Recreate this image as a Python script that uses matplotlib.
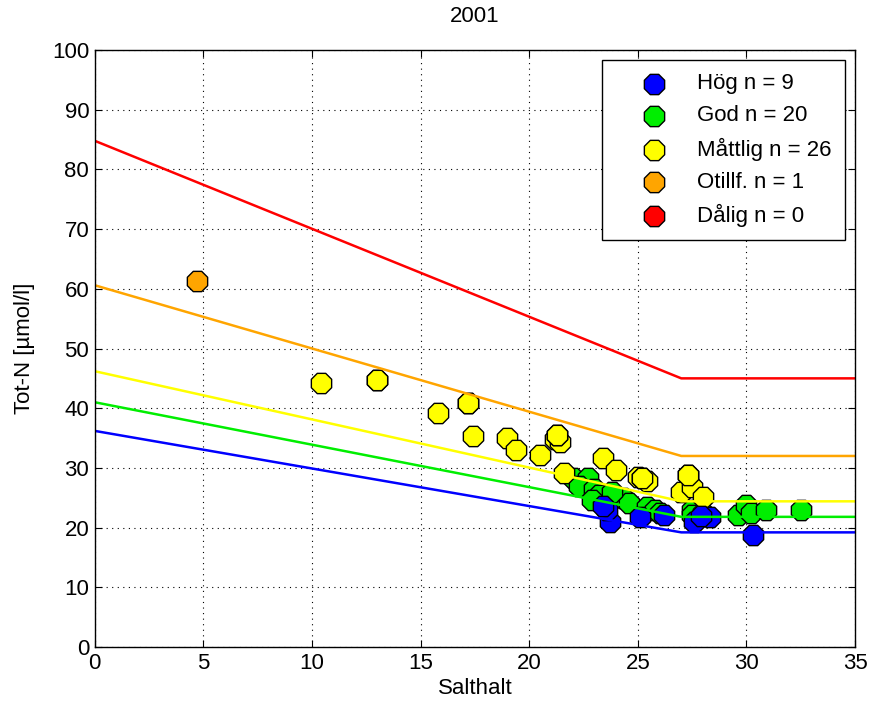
import matplotlib
matplotlib.use("Agg")
import matplotlib.pyplot as plt

plt.rcParams['font.family'] = ['Liberation Sans', 'DejaVu Sans']

# Boundary lines (salinity breakpoints and Tot-N values)
bound_sal = [0, 27, 35]
bound_hog = [36.2, 19.2, 19.2]
bound_god = [41.0, 21.8, 21.8]
bound_mattlig = [46.2, 24.4, 24.4]
bound_otillf = [60.6, 32.0, 32.0]
bound_dalig = [84.8, 45.0, 45.0]

# Points
hog_x = [23.7, 23.6, 23.4, 25.1, 26.2, 27.6, 28.3, 27.9, 30.3]
hog_y = [20.9, 22.9, 23.6, 21.8, 22.1, 20.9, 21.8, 22.0, 18.8]

god_x = [22.0, 22.7, 22.3, 23.0, 23.2, 22.9, 24.3, 24.6, 25.4, 25.8,
         27.5, 27.5, 28.0, 29.6, 30.0, 30.2, 30.9, 32.5, 23.8, 26.0]
god_y = [28.3, 28.3, 27.0, 26.5, 25.5, 24.6, 25.0, 24.1, 23.5, 23.0,
         22.9, 22.1, 22.5, 22.1, 23.8, 22.5, 23.0, 23.0, 26.0, 22.5]

mattlig_x = [10.4, 13.0, 15.8, 17.2, 17.4, 19.0, 19.4, 20.5, 21.2, 21.4,
             21.3, 21.6, 23.4, 24.0, 25.0, 25.2, 25.4, 27.3, 27.0, 27.5,
             28.0, 21.3, 25.2, 27.3, 17.2, 13.0]
mattlig_y = [44.2, 44.7, 39.2, 40.9, 35.3, 35.0, 33.0, 32.2, 34.9, 34.3,
             35.5, 29.1, 31.6, 29.6, 28.5, 28.3, 27.8, 28.8, 26.0, 26.8,
             25.1, 35.5, 28.3, 28.8, 40.9, 44.7]

otillf_x = [4.7]
otillf_y = [61.3]

dalig_x = []
dalig_y = []

labels = ["Hög n = 9", "God n = 20", "Måttlig n = 26", "Otillf. n = 1", "Dålig n = 0"]
colors = ["#0000ff", "#00ee00", "#ffff00", "#ffa500", "#ff0000"]
point_z = [3.4, 3.1, 3.2, 3.0, 3.0]

fig = plt.figure(figsize=(8.69, 7.06), dpi=100)
ax = fig.add_axes([0.109, 0.0836, 0.875, 0.8455])

for yv, c in zip([bound_hog, bound_god, bound_mattlig, bound_otillf, bound_dalig], colors):
    ax.plot(bound_sal, yv, color=c, lw=1.8, zorder=4)

for xs, ys, c, lab, z in zip([hog_x, god_x, mattlig_x, otillf_x, dalig_x],
                             [hog_y, god_y, mattlig_y, otillf_y, dalig_y], colors, labels, point_z):
    ax.scatter(xs, ys, s=250, c=c, edgecolors='black', linewidths=1.0,
               label=lab, zorder=z, marker='8')

ax.set_xlim(0, 35)
ax.set_ylim(0, 100)
ax.set_xticks(range(0, 36, 5))
ax.set_yticks(range(0, 101, 10))
ax.grid(True, color='black', linestyle=(0, (1, 4)), linewidth=0.8)
ax.tick_params(direction='in', top=True, right=True, labelsize=16, length=5, pad=4)
for sp in ax.spines.values():
    sp.set_linewidth(1.0)
    sp.set_zorder(6)

ax.set_title("2001", fontsize=16, pad=20)
ax.set_xlabel("Salthalt", fontsize=16, labelpad=3)
ax.set_ylabel("Tot-N [µmol/l]", fontsize=16, labelpad=12)

leg = ax.legend(loc='upper right', fontsize=16, frameon=True, fancybox=False,
                edgecolor='black', framealpha=1, borderpad=0.6, labelspacing=0.5,
                handletextpad=0.2, borderaxespad=0.45, handlelength=3.5)
leg.get_frame().set_linewidth(1.0)
leg.set_zorder(10)

fig.savefig("out.png", dpi=100)
